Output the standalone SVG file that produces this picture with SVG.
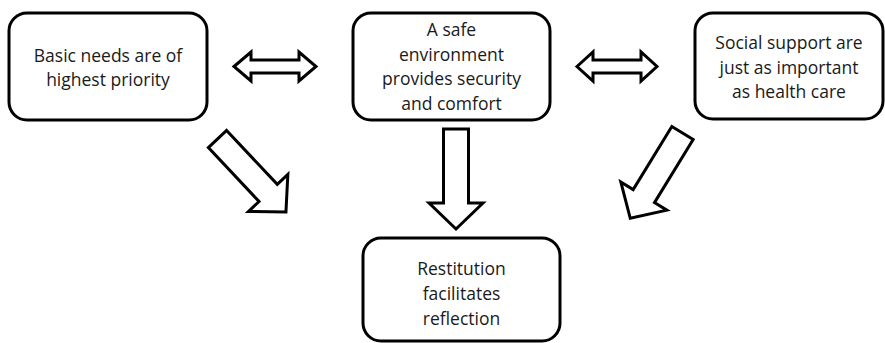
<svg xmlns="http://www.w3.org/2000/svg" xmlns:xlink="http://www.w3.org/1999/xlink" width="885" height="343" viewBox="0 0 885 343">
  <style>
    .box { fill: #ffffff; stroke: #000000; stroke-width: 3; }
    .arr { fill: #ffffff; stroke: #000000; stroke-width: 3; stroke-linejoin: miter; }
    .lbl { font-family: "Open Sans", "Liberation Sans", sans-serif; font-size: 17.5px; fill: #1a1a1a; text-anchor: middle; }
  </style>
  <defs>
    <path id="fat" d="M0,-12.5 H74 V-27 L100,0 L74,27 V12.5 H0 Z"/>
  </defs>
  <rect width="885" height="343" fill="#ffffff"/>
  <g id="connectors">
    <path class="arr" d="M234,66.5 L251,52 V60 H299 V52 L316,66.5 L299,81 V73 H251 V81 Z"/>
    <path class="arr" d="M577,66.5 L593,52 V60 H641 V52 L657,66.5 L641,81 V73 H593 V81 Z"/>
    <use xlink:href="#fat" class="arr" transform="translate(217.5,139) rotate(46.8)"/>
    <use xlink:href="#fat" class="arr" transform="translate(456,129) rotate(90)"/>
    <use xlink:href="#fat" class="arr" transform="translate(682.5,133) rotate(121.5)"/>
  </g>
  <g id="node-basic">
    <rect class="box" x="9" y="13" width="198" height="107" rx="18"/>
    <text class="lbl" x="108" y="62">Basic needs are of</text>
    <text class="lbl" x="108" y="86">highest priority</text>
  </g>
  <g id="node-safe">
    <rect class="box" x="353" y="13" width="197" height="107" rx="18"/>
    <text class="lbl" x="451.5" y="36">A safe</text>
    <text class="lbl" x="451.5" y="61">environment</text>
    <text class="lbl" x="451.5" y="85">provides security</text>
    <text class="lbl" x="451.5" y="110">and comfort</text>
  </g>
  <g id="node-social">
    <rect class="box" x="695" y="13" width="188" height="106" rx="18"/>
    <text class="lbl" x="789" y="49">Social support are</text>
    <text class="lbl" x="789" y="74">just as important</text>
    <text class="lbl" x="789" y="98">as health care</text>
  </g>
  <g id="node-restitution">
    <rect class="box" x="363" y="238" width="197" height="103" rx="18"/>
    <text class="lbl" x="461.5" y="275">Restitution</text>
    <text class="lbl" x="461.5" y="300">facilitates</text>
    <text class="lbl" x="461.5" y="325">reflection</text>
  </g>
</svg>
